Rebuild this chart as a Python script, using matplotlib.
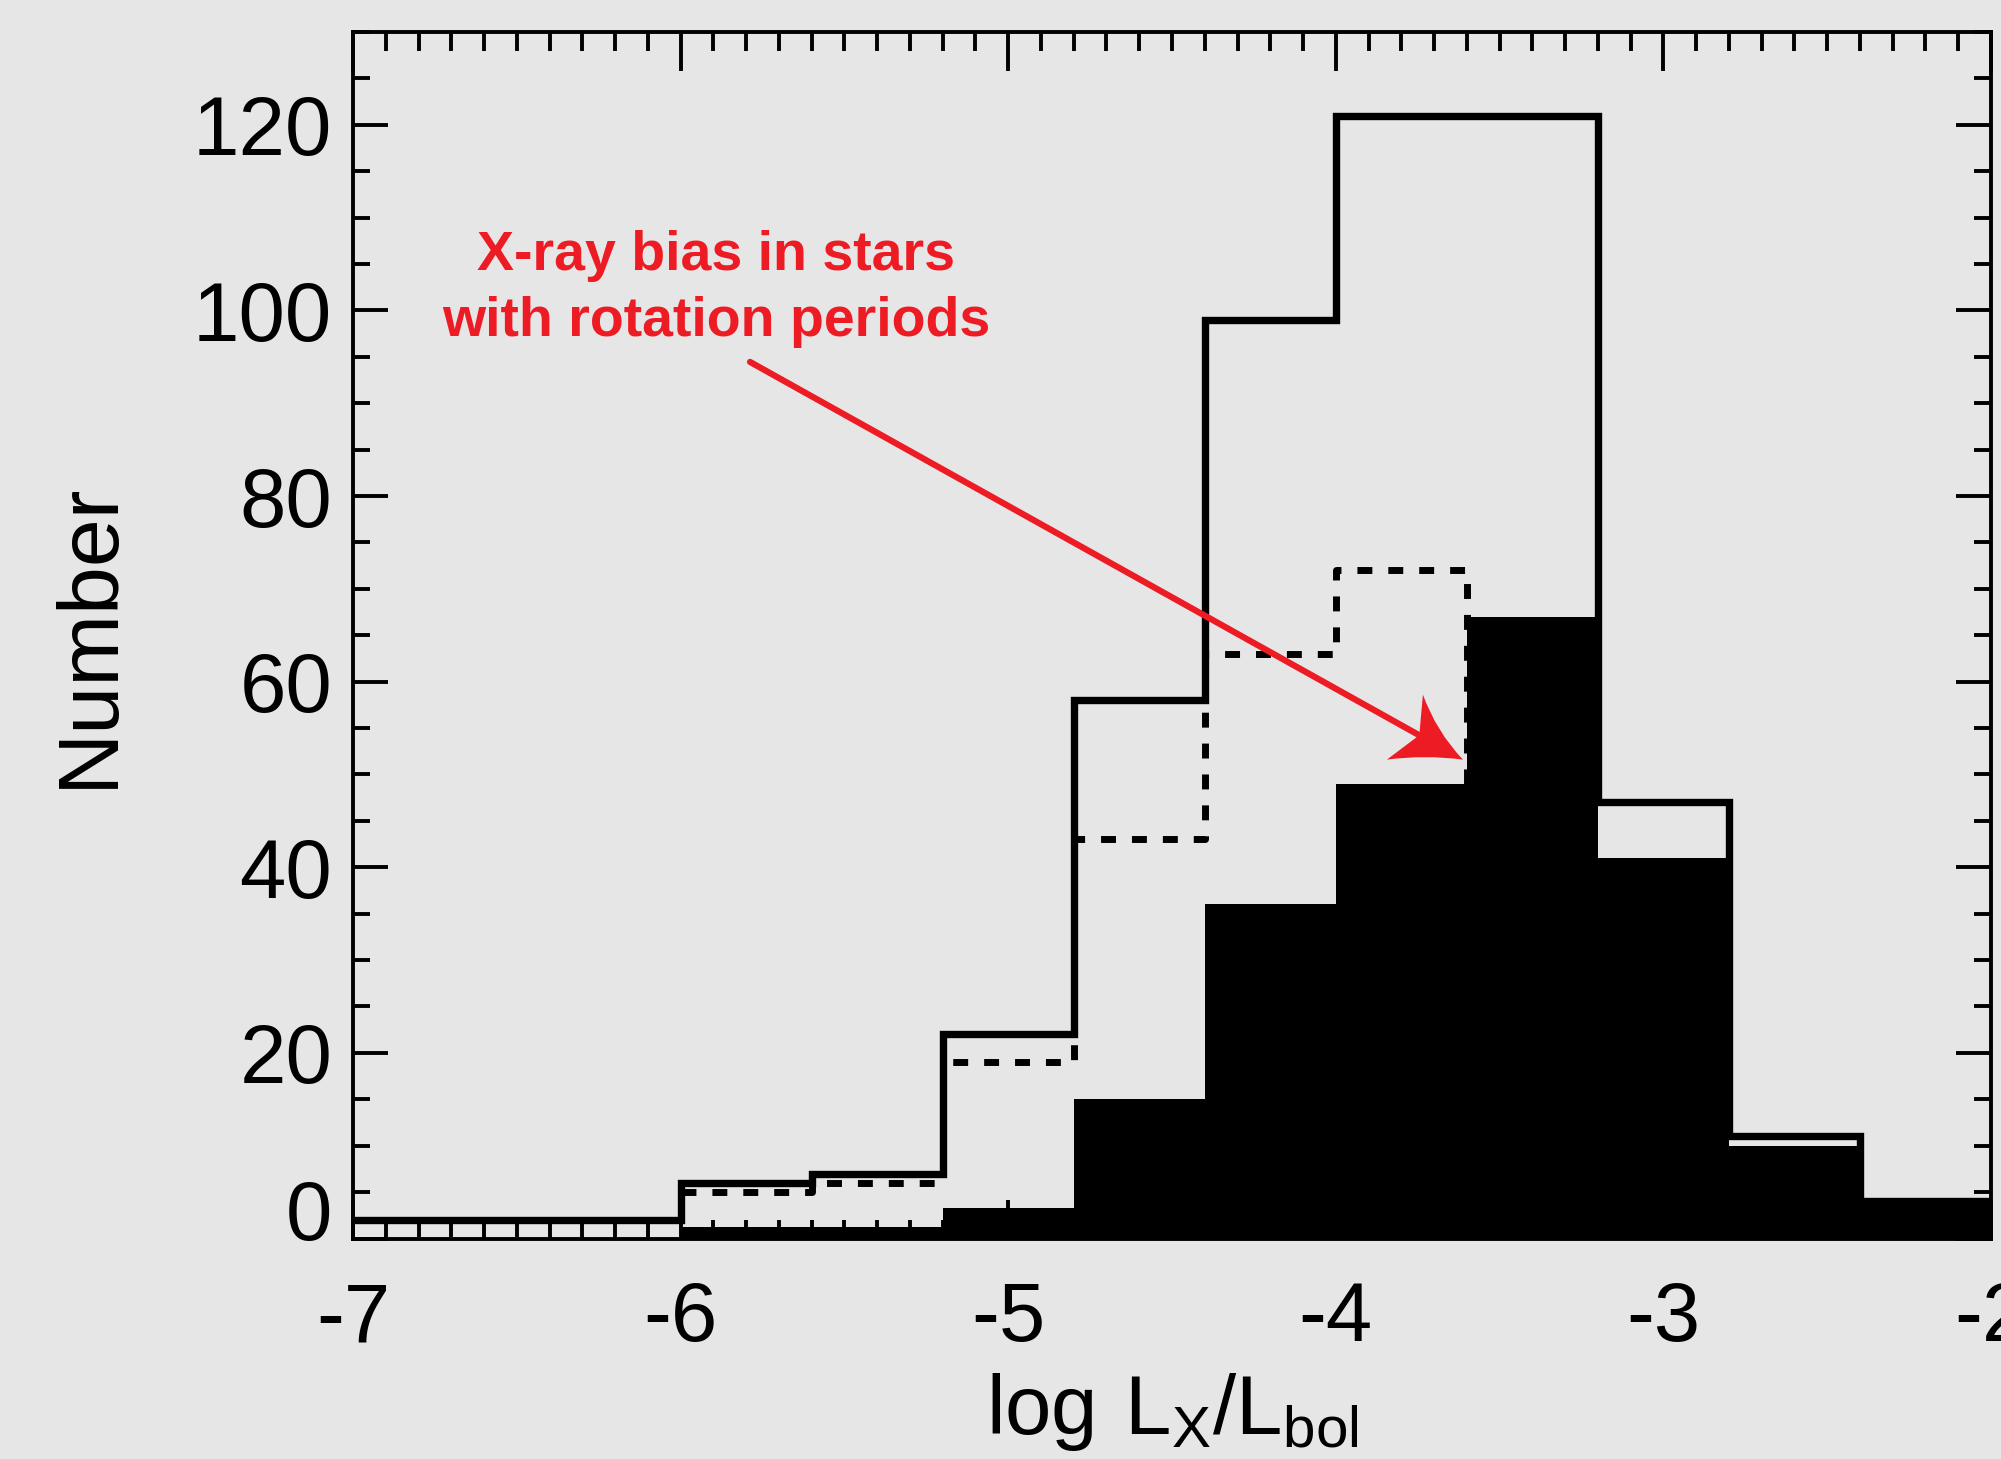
import numpy as np
import matplotlib
matplotlib.use("Agg")
import matplotlib.pyplot as plt
import matplotlib.transforms as mtransforms
from matplotlib.path import Path
from matplotlib.patches import PathPatch
from matplotlib.ticker import MultipleLocator

plt.rcParams['font.family'] = ['Liberation Sans', 'DejaVu Sans']
plt.rcParams['axes.unicode_minus'] = False
plt.rcParams['mathtext.fontset'] = 'custom'
plt.rcParams['mathtext.rm'] = 'Liberation Sans'

# ---------------- data ----------------
# full sample (solid outline)
all_edges = [-7.0, -6.0, -5.6, -5.2, -4.8, -4.4, -4.0, -3.6, -3.2, -2.8, -2.4, -2.0]
all_counts = [2, 6, 7, 22, 58, 99, 121, 121, 47, 11, 4]

# dashed outline
dash_edges = [-6.0, -5.6, -5.2, -4.8, -4.4, -4.0, -3.6]
dash_counts = [5, 6, 19, 43, 63, 72]

# stars with rotation periods (filled)
rot_edges = [-6.0, -5.6, -5.2, -4.8, -4.4, -4.0, -3.6, -3.2, -2.8, -2.4, -2.0]
rot_counts = [1.2, 1.2, 3.3, 15, 36, 49, 67, 41, 10, 4.3]

xticks = [-7, -6, -5, -4, -3, -2]
yticks = [0, 20, 40, 60, 80, 100, 120]

bg = '#e6e6e6'
red = '#ed1c24'

fig = plt.figure(figsize=(20.01, 14.59), dpi=100, facecolor=bg)
ax = fig.add_axes([0.17641, 0.15113, 0.81859, 0.82694], facecolor=bg)

# dashed histogram (ends with a drop at its last edge)
dx = np.repeat(dash_edges, 2)[1:-1]
dy = np.repeat(dash_counts, 2).astype(float)
dx = np.append(dx, dash_edges[-1])
dy = np.append(dy, 0.0)
ax.plot(dx, dy, color='black', lw=5, linestyle=(0, (2.15, 2.3)),
        solid_joinstyle='miter', zorder=2)

# filled histogram
ax.stairs(rot_counts, rot_edges, fill=True, color='black', baseline=0,
          linewidth=0, zorder=3)

# solid histogram
ax.stairs(all_counts, all_edges, baseline=None, color='black', lw=5.3,
          zorder=4)

ax.set_xlim(-7, -2)
ax.set_ylim(0, 130)

ax.xaxis.set_minor_locator(MultipleLocator(0.1))
ax.yaxis.set_minor_locator(MultipleLocator(5))
ax.set_xticks(xticks)
ax.set_yticks(yticks)
ax.set_xticklabels([str(t) for t in xticks])
ax.set_yticklabels(['' if t == 0 else str(t) for t in yticks])

ax.tick_params(which='both', direction='in', top=True, right=True,
               width=2.8, colors='black')
ax.tick_params(axis='x', which='major', length=28, pad=30, labelsize=60)
ax.tick_params(axis='x', which='minor', length=14)
ax.tick_params(axis='y', which='major', length=25, pad=15, labelsize=60)
ax.tick_params(axis='y', which='minor', length=12.5)
for s in ax.spines.values():
    s.set_linewidth(2.8)
    s.set_zorder(6)

# the "0" label sits a little above its tick in the original
ax.annotate('0', xy=(0, 0), xycoords=('axes fraction', 'data'),
            xytext=(-15, 21), textcoords='offset points',
            ha='right', va='center_baseline', fontsize=60)

ax.set_xlabel(r'$\mathregular{log\ L_X/L_{bol}}$', fontsize=60)
ax.xaxis.set_label_coords(0.5, -0.110)
ax.set_ylabel('Number', fontsize=62)
ax.yaxis.set_label_coords(-0.136, 0.5)

# annotation text
ax.text(-5.892, 102.3, 'X-ray bias in stars\nwith rotation periods',
        color=red, fontsize=40, fontweight='bold', ha='center', va='center',
        linespacing=1.33, zorder=7)

# arrow: shaft + concave arrowhead
tail = (-5.788, 94.45)
tip = (-3.612, 51.6)
ax.annotate('', xy=tip, xytext=tail,
            arrowprops=dict(arrowstyle='-', color=red, lw=4.5,
                            shrinkA=0, shrinkB=24),
            zorder=7)
head_px = [(0, 0), (-38, 5), (-76, 0), (-43.6, 24.4), (-40, 65),
           (-26.8, 28.3), (0, 0), (0, 0)]
head_codes = [Path.MOVETO, Path.CURVE3, Path.CURVE3, Path.LINETO, Path.LINETO,
              Path.CURVE3, Path.CURVE3, Path.CLOSEPOLY]
head_in = [(x / fig.dpi, y / fig.dpi) for x, y in head_px]
head_trans = fig.dpi_scale_trans + mtransforms.ScaledTranslation(
    tip[0], tip[1], ax.transData)
ax.add_patch(PathPatch(Path(head_in, head_codes), facecolor=red,
                       edgecolor='none', transform=head_trans, zorder=8,
                       clip_on=False))

fig.savefig('out.png', dpi=100, facecolor=bg)
